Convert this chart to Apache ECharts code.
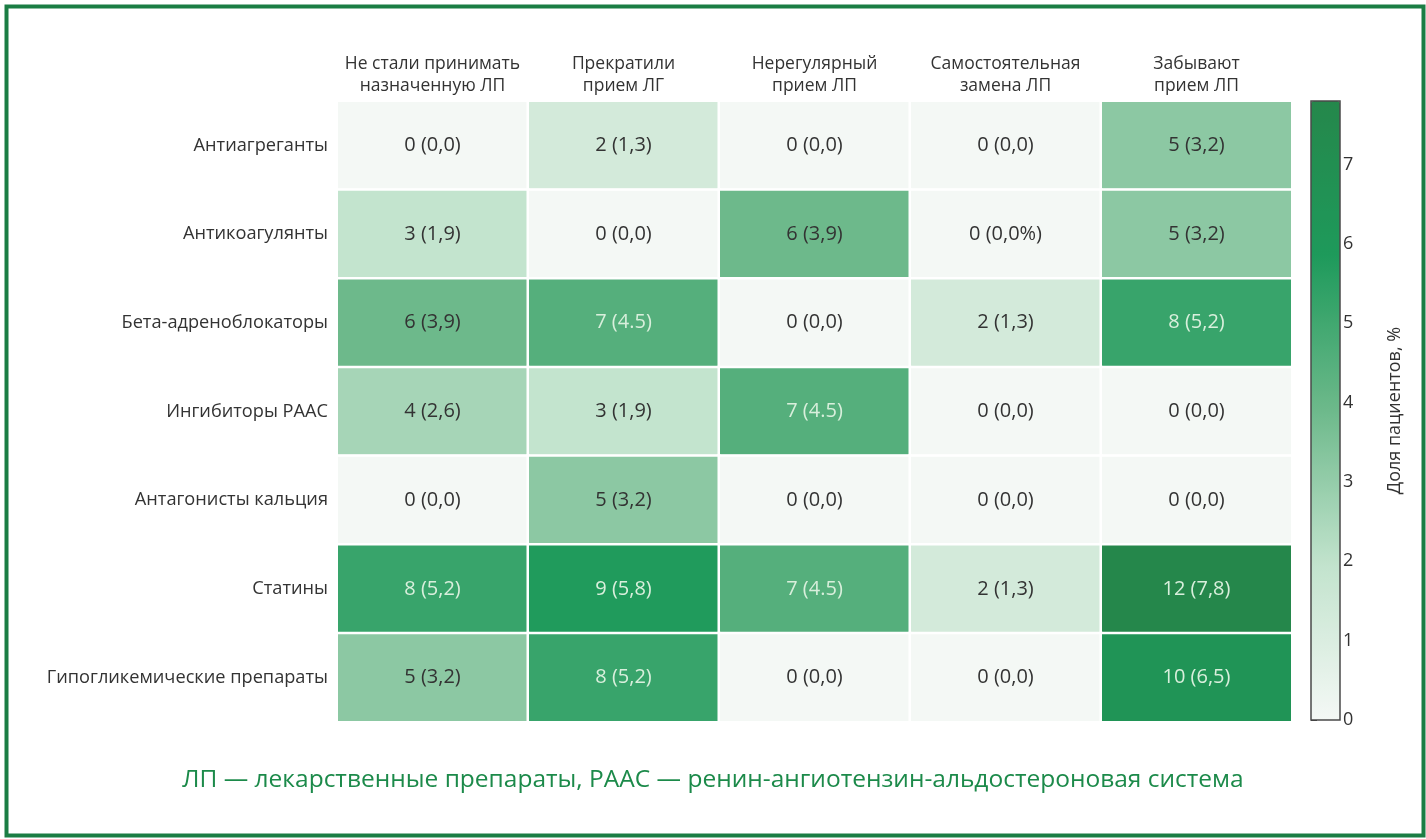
<!DOCTYPE html>
<html>
<head>
<meta charset="utf-8">
<script src="https://cdn.jsdelivr.net/npm/echarts@6/dist/echarts.min.js"></script>
<style>
  html, body { margin: 0; padding: 0; background: #fff; }
  #chart { width: 1426px; height: 839px; }
</style>
</head>
<body>
<div id="chart"></div>
<script>
"use strict";

// столбцы (причины) и строки (группы препаратов)
const COLS = [
  "Не стали принимать\nназначенную ЛП",
  "Прекратили\nприем ЛГ",
  "Нерегулярный\nприем ЛП",
  "Самостоятельная\nзамена ЛП",
  "Забывают\nприем ЛП",
];
const ROWS = [
  "Антиагреганты",
  "Антикоагулянты",
  "Бета-адреноблокаторы",
  "Ингибиторы РААС",
  "Антагонисты кальция",
  "Статины",
  "Гипогликемические препараты",
];

// доля пациентов, %
const PCT = [
  [0.0, 1.3, 0.0, 0.0, 3.2],
  [1.9, 0.0, 3.9, 0.0, 3.2],
  [3.9, 4.5, 0.0, 1.3, 5.2],
  [2.6, 1.9, 4.5, 0.0, 0.0],
  [0.0, 3.2, 0.0, 0.0, 0.0],
  [5.2, 5.8, 4.5, 1.3, 7.8],
  [3.2, 5.2, 0.0, 0.0, 6.5],
];

// подписи ячеек как в оригинале
const LABELS = [
  ["0 (0,0)", "2 (1,3)", "0 (0,0)", "0 (0,0)", "5 (3,2)"],
  ["3 (1,9)", "0 (0,0)", "6 (3,9)", "0 (0,0%)", "5 (3,2)"],
  ["6 (3,9)", "7 (4.5)", "0 (0,0)", "2 (1,3)", "8 (5,2)"],
  ["4 (2,6)", "3 (1,9)", "7 (4.5)", "0 (0,0)", "0 (0,0)"],
  ["0 (0,0)", "5 (3,2)", "0 (0,0)", "0 (0,0)", "0 (0,0)"],
  ["8 (5,2)", "9 (5,8)", "7 (4.5)", "2 (1,3)", "12 (7,8)"],
  ["5 (3,2)", "8 (5,2)", "0 (0,0)", "0 (0,0)", "10 (6,5)"],
];

const VMAX = 7.8;
const CBAR_TICKS = [0, 1, 2, 3, 4, 5, 6, 7];
const FOOTNOTE = "ЛП — лекарственные препараты, РААС — ренин-ангиотензин-альдостероновая система";

const FONT = "'Open Sans', 'Noto Sans', sans-serif";
const GREEN = "#1c8a4a";

const data = [];
PCT.forEach((row, r) => row.forEach((v, c) => data.push({
  value: [c, r, v],
  label: { color: v >= 4.5 ? "#d9efdc" : "#333" },
})));

const chart = echarts.init(document.getElementById("chart"), null, { renderer: "canvas" });
chart.setOption({
  animation: false,
  backgroundColor: "#fff",
  textStyle: { fontFamily: FONT },
  grid: [
    { left: 337, right: 134, top: 101, bottom: 117 },
    { left: 1311, width: 29, top: 101, bottom: 119, show: true, z: 10,
      borderColor: "#4a4a4a", borderWidth: 1.5, backgroundColor: "transparent" },
  ],
  xAxis: [
    {
      type: "category", data: COLS, position: "top", gridIndex: 0,
      axisLine: { show: false }, axisTick: { show: false },
      axisLabel: { color: "#333", fontSize: 17.5, lineHeight: 22, margin: 4, interval: 0 },
    },
    { type: "value", gridIndex: 1, show: false, min: 0, max: 1 },
  ],
  yAxis: [
    {
      type: "category", data: ROWS, inverse: true, gridIndex: 0,
      axisLine: { show: false }, axisTick: { show: false },
      axisLabel: { color: "#333", fontSize: 18.2, margin: 9 },
    },
    {
      type: "value", gridIndex: 1, position: "right", min: 0, max: VMAX,
      axisLine: { show: false },
      axisTick: { show: true, length: 6, lineStyle: { color: "#333" },
        customValues: CBAR_TICKS },
      axisLabel: { color: "#333", fontSize: 18, margin: 3, customValues: CBAR_TICKS },
      splitLine: { show: false },
      name: "Доля пациентов, %", nameLocation: "middle", nameGap: 46, nameRotate: 90,
      nameTextStyle: { color: "#333", fontSize: 18 },
    },
  ],
  visualMap: {
    type: "continuous", seriesIndex: 0, min: 0, max: VMAX,
    calculable: false, hoverLink: false, text: null, show: true,
    orient: "vertical", left: 1311, top: 101, padding: 0,
    itemWidth: 29, itemHeight: 619,
    inRange: { color: ["#f4f8f5", "#c2e3cd", "#6db98b", "#1e9a5b", "#25874b"] },
    textStyle: { color: "transparent" },
  },
  graphic: [
    {
      type: "rect", left: 4, top: 4, z: 100, silent: true,
      shape: { width: 1417, height: 829 },
      style: { fill: "none", stroke: "#1b7d44", lineWidth: 4 },
    },
    {
      type: "text", left: "center", top: 768, z: 100, silent: true,
      style: { text: FOOTNOTE, fill: GREEN, font: "24.5px " + FONT },
    },
  ],
  series: [
    {
      type: "heatmap", xAxisIndex: 0, yAxisIndex: 0, data: data,
      itemStyle: { borderColor: "#fff", borderWidth: 2.5 },
      label: {
        show: true, fontSize: 20,
        formatter: p => LABELS[p.value[1]][p.value[0]],
      },
    },
    { type: "scatter", xAxisIndex: 1, yAxisIndex: 1, data: [] },
  ],
});
</script>
</body>
</html>
